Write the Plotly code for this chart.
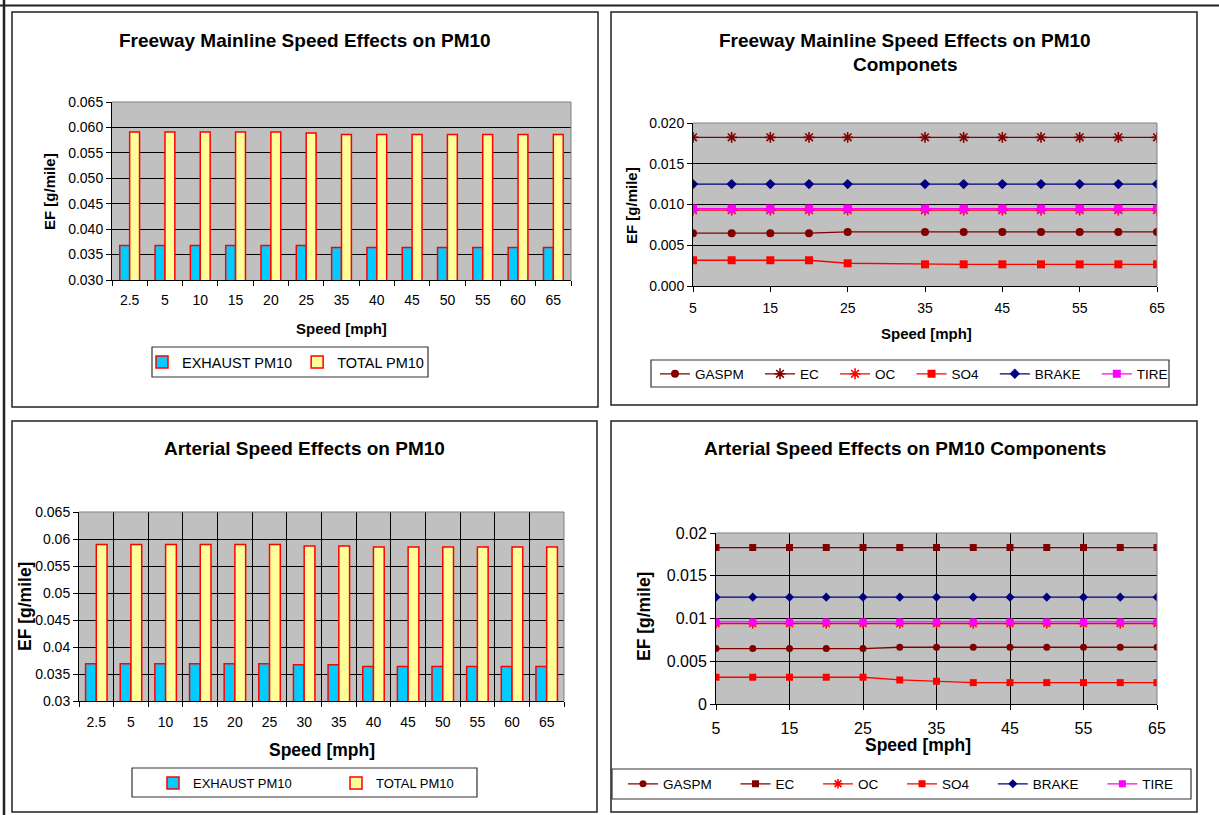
import plotly.graph_objects as go

# ---------------- data ----------------
# Freeway mainline: total vs exhaust PM10 by speed
fw_speeds = ["2.5", "5", "10", "15", "20", "25", "35", "40", "45", "50", "55", "60", "65"]
fw_exhaust = [0.0368, 0.0368, 0.0368, 0.0368, 0.0368, 0.0368, 0.0364,
              0.0364, 0.0364, 0.0364, 0.0364, 0.0364, 0.0364]
fw_total = [0.0591, 0.0591, 0.0591, 0.0591, 0.0591, 0.0589, 0.0586,
            0.0586, 0.0586, 0.0586, 0.0586, 0.0586, 0.0586]

# Arterial: total vs exhaust PM10 by speed
art_speeds = ["2.5", "5", "10", "15", "20", "25", "30", "35", "40", "45", "50", "55", "60", "65"]
art_exhaust = [0.0369, 0.0369, 0.0369, 0.0369, 0.0369, 0.0369, 0.0367,
               0.0367, 0.0364, 0.0364, 0.0364, 0.0364, 0.0364, 0.0364]
art_total = [0.0590, 0.0590, 0.0590, 0.0590, 0.0590, 0.0590, 0.0587,
             0.0587, 0.0585, 0.0585, 0.0585, 0.0585, 0.0585, 0.0585]

# Freeway mainline PM10 components
fw_comp_speed = [5, 10, 15, 20, 25, 35, 40, 45, 50, 55, 60, 65]
fw_gaspm = [0.00648, 0.00648, 0.00648, 0.00648, 0.00664, 0.00664,
            0.00664, 0.00664, 0.00664, 0.00664, 0.00664, 0.00664]
fw_ec = [0.01824, 0.01824, 0.01824, 0.01824, 0.01824, 0.01824,
         0.01824, 0.01824, 0.01824, 0.01824, 0.01824, 0.01824]
fw_oc = [0.0093, 0.0093, 0.0093, 0.0093, 0.0093, 0.0093,
         0.0093, 0.0093, 0.0093, 0.0093, 0.0093, 0.0093]
fw_so4 = [0.00316, 0.00316, 0.00316, 0.00316, 0.00279, 0.00266,
          0.00266, 0.00266, 0.00266, 0.00266, 0.00266, 0.00266]
fw_brake = [0.0125, 0.0125, 0.0125, 0.0125, 0.0125, 0.0125,
            0.0125, 0.0125, 0.0125, 0.0125, 0.0125, 0.0125]
fw_tire = [0.0095, 0.0095, 0.0095, 0.0095, 0.0095, 0.0095,
           0.0095, 0.0095, 0.0095, 0.0095, 0.0095, 0.0095]

# Arterial PM10 components
art_comp_speed = [5, 10, 15, 20, 25, 30, 35, 40, 45, 50, 55, 60, 65]
art_gaspm = [0.00648, 0.00648, 0.00648, 0.00648, 0.00648, 0.00664, 0.00664,
             0.00664, 0.00664, 0.00664, 0.00664, 0.00664, 0.00664]
art_ec = [0.0183, 0.0183, 0.0183, 0.0183, 0.0183, 0.0183, 0.0183,
          0.0183, 0.0183, 0.0183, 0.0183, 0.0183, 0.0183]
art_oc = [0.0094, 0.0094, 0.0094, 0.0094, 0.0094, 0.0094, 0.0094,
          0.0094, 0.0094, 0.0094, 0.0094, 0.0094, 0.0094]
art_so4 = [0.00313, 0.00313, 0.00313, 0.00313, 0.00313, 0.00281, 0.00266,
           0.0025, 0.0025, 0.0025, 0.0025, 0.0025, 0.0025]
art_brake = [0.0125, 0.0125, 0.0125, 0.0125, 0.0125, 0.0125, 0.0125,
             0.0125, 0.0125, 0.0125, 0.0125, 0.0125, 0.0125]
art_tire = [0.0096, 0.0096, 0.0096, 0.0096, 0.0096, 0.0096, 0.0096,
            0.0096, 0.0096, 0.0096, 0.0096, 0.0096, 0.0096]

# axis ticks
bar_yticks = [0.030, 0.035, 0.040, 0.045, 0.050, 0.055, 0.060, 0.065]
fw_bar_ylabels = ["0.030", "0.035", "0.040", "0.045", "0.050", "0.055", "0.060", "0.065"]
art_bar_ylabels = ["0.03", "0.035", "0.04", "0.045", "0.05", "0.055", "0.06", "0.065"]
comp_yticks = [0.0, 0.005, 0.010, 0.015, 0.020]
fw_comp_ylabels = ["0.000", "0.005", "0.010", "0.015", "0.020"]
art_comp_ylabels = ["0", "0.005", "0.01", "0.015", "0.02"]
comp_xticks = [5, 15, 25, 35, 45, 55, 65]

# ---------------- layout helpers ----------------
W, H = 1219, 815
FONT = "Arial, 'Liberation Sans', sans-serif"


def fx(x):
    return x / W


def fy(y):
    return 1 - y / H


EXH_COLOR = "#00CCFF"
TOT_COLOR = "#FFFF99"
EDGE = "#FF0000"
DARKRED = "#800000"
RED = "#FF0000"
NAVY = "#000080"
MAGENTA = "#FF00FF"
NBSP = "\u00a0"

fig = go.Figure()


# ---- bar charts ----
def add_bars(xs, exh, tot, xa, ya, leg, w):
    fig.add_trace(go.Bar(x=xs, y=exh, name="EXHAUST PM10", xaxis=xa, yaxis=ya, legend=leg,
                         width=w, offset=-w,
                         marker=dict(color=EXH_COLOR, line=dict(color=EDGE, width=1.5))))
    fig.add_trace(go.Bar(x=xs, y=tot, name="TOTAL PM10", xaxis=xa, yaxis=ya, legend=leg,
                         width=w, offset=0,
                         marker=dict(color=TOT_COLOR, line=dict(color=EDGE, width=1.5))))


add_bars(fw_speeds, fw_exhaust, fw_total, "x", "y", "legend", 0.28)
add_bars(art_speeds, art_exhaust, art_total, "x3", "y3", "legend3", 0.31)


# ---- component line charts ----
def add_components(xs, series, xa, ya, leg, pad):
    for name, ys, color, sym, size in series:
        open_sym = sym.endswith("-open")
        fig.add_trace(go.Scatter(
            x=xs, y=ys, name=name + NBSP * pad, mode="lines+markers",
            xaxis=xa, yaxis=ya, legend=leg,
            line=dict(color=color, width=1.3),
            marker=dict(symbol=sym, size=size, color=color,
                        line=dict(color=color, width=1.6 if open_sym else 0)),
        ))


add_components(fw_comp_speed, [
    ("GASPM", fw_gaspm, DARKRED, "circle", 8),
    ("EC", fw_ec, DARKRED, "asterisk-open", 9),
    ("OC", fw_oc, RED, "asterisk-open", 9),
    ("SO4", fw_so4, RED, "square", 8),
    ("BRAKE", fw_brake, NAVY, "diamond", 8),
    ("TIRE", fw_tire, MAGENTA, "square", 8),
], "x2", "y2", "legend2", 3)

add_components(art_comp_speed, [
    ("GASPM", art_gaspm, DARKRED, "circle", 7),
    ("EC", art_ec, DARKRED, "square", 7),
    ("OC", art_oc, RED, "asterisk-open", 8),
    ("SO4", art_so4, RED, "square", 7),
    ("BRAKE", art_brake, NAVY, "diamond", 7),
    ("TIRE", art_tire, MAGENTA, "square", 7),
], "x4", "y4", "legend4", 5)

# ---------------- axes ----------------
common_axis = dict(showline=True, linecolor="black", linewidth=1, ticks="outside",
                   ticklen=5, tickcolor="black", zeroline=False, fixedrange=True)


def cat_x(domain, anchor, grid, size, standoff):
    return dict(common_axis, domain=domain, anchor=anchor, type="category",
                tickson="boundaries", showgrid=grid, gridcolor="black", gridwidth=1,
                ticklabelstandoff=standoff,
                tickfont=dict(size=size, family=FONT, color="black"))


def val_y(domain, anchor, rng, vals, labels, size):
    return dict(common_axis, domain=domain, anchor=anchor, range=rng,
                tickmode="array", tickvals=vals, ticktext=labels,
                showgrid=True, gridcolor="black", gridwidth=1,
                tickfont=dict(size=size, family=FONT, color="black"))


def num_x(domain, anchor, grid, size, standoff):
    return dict(common_axis, domain=domain, anchor=anchor, range=[5, 65],
                tickmode="array", tickvals=comp_xticks,
                showgrid=grid, gridcolor="black", gridwidth=1,
                ticklabelstandoff=standoff,
                tickfont=dict(size=size, family=FONT, color="black"))


fig.update_layout(
    xaxis=cat_x([fx(112), fx(571)], "y", False, 14, 7),
    yaxis=val_y([fy(280), fy(102)], "x", [0.030, 0.065], bar_yticks, fw_bar_ylabels, 14),
    xaxis2=num_x([fx(693), fx(1157)], "y2", False, 14, 4),
    yaxis2=val_y([fy(286), fy(123)], "x2", [0, 0.020], comp_yticks, fw_comp_ylabels, 14),
    xaxis3=cat_x([fx(79), fx(564)], "y3", True, 14, 8),
    yaxis3=val_y([fy(701), fy(512)], "x3", [0.030, 0.065], bar_yticks, art_bar_ylabels, 14),
    xaxis4=num_x([fx(716), fx(1157)], "y4", True, 16, 5),
    yaxis4=val_y([fy(704), fy(533)], "x4", [0, 0.020], comp_yticks, art_comp_ylabels, 16),
)


# ---------------- legends (boxes drawn as shapes below) ----------------
def legend_at(x, yc, size, entry=None):
    d = dict(x=fx(x), y=fy(yc), xanchor="left", yanchor="middle", orientation="h",
             bgcolor="rgba(0,0,0,0)", borderwidth=0,
             font=dict(size=size, family=FONT, color="black"), itemclick=False)
    if entry:
        d["entrywidth"] = entry
        d["entrywidthmode"] = "pixels"
    return d


fig.update_layout(
    legend=legend_at(142, 362, 14.5),
    legend2=legend_at(655, 374, 13.5),
    legend3=legend_at(153, 783, 13, 138),
    legend4=legend_at(623, 784, 13.5),
)
legend_boxes = [(152, 347, 428, 377), (651, 360, 1169, 387),
                (132, 768, 477, 797), (612, 769, 1191, 799)]

# ---------------- text ----------------
ann = []


def text(x, y, s, size, bold=True, angle=0):
    ann.append(dict(x=fx(x), y=fy(y), xref="paper", yref="paper",
                    text=f"<b>{s}</b>" if bold else s,
                    showarrow=False, xanchor="center", yanchor="middle", textangle=angle,
                    font=dict(size=size, family=FONT, color="black")))


text(305, 40, "Freeway Mainline Speed Effects on PM10", 19)
text(905, 40, "Freeway Mainline Speed Effects on PM10", 19)
text(905, 65, "Componets", 19)
text(304, 448, "Arterial Speed Effects on PM10", 19)
text(905, 448, "Arterial Speed Effects on PM10 Components", 19)

text(341, 328, "Speed [mph]", 15)
text(50, 192, "EF [g/mile]", 15, angle=-90)
text(926, 333, "Speed [mph]", 15)
text(631, 205, "EF [g/mile]", 15, angle=-90)
text(322, 750, "Speed [mph]", 17.5)
text(25, 607, "EF [g/mile]", 17.5, angle=-90)
text(918, 745, "Speed [mph]", 17.5)
text(644, 617, "EF [g/mile]", 17.5, angle=-90)

# ---------------- frames ----------------
shapes = []
PANEL = "#222222"
for x0, y0, x1, y1 in [(12, 12, 598, 407), (611, 12, 1197, 405),
                       (12, 421, 597, 812), (611, 421, 1197, 812)]:
    shapes.append(dict(type="rect", xref="paper", yref="paper",
                       x0=fx(x0), y0=fy(y1), x1=fx(x1), y1=fy(y0),
                       line=dict(color=PANEL, width=1.5), fillcolor="rgba(0,0,0,0)"))
for x0, y0, x1, y1 in legend_boxes:
    shapes.append(dict(type="rect", xref="paper", yref="paper",
                       x0=fx(x0), y0=fy(y1), x1=fx(x1), y1=fy(y0),
                       line=dict(color="#333333", width=1.2), fillcolor="rgba(0,0,0,0)"))
# page edge lines
shapes.append(dict(type="line", xref="paper", yref="paper", x0=0, x1=1, y0=fy(5.5), y1=fy(5.5),
                   line=dict(color="#222222", width=2)))
shapes.append(dict(type="line", xref="paper", yref="paper", x0=fx(4), x1=fx(4), y0=0, y1=1,
                   line=dict(color="#222222", width=2.5)))
# grey top/right edges of each plot area
for xa, ya in [("x", "y"), ("x2", "y2"), ("x3", "y3"), ("x4", "y4")]:
    shapes.append(dict(type="line", xref=f"{xa} domain", yref=f"{ya} domain",
                       x0=0, x1=1, y0=1, y1=1, line=dict(color="#808080", width=1)))
    shapes.append(dict(type="line", xref=f"{xa} domain", yref=f"{ya} domain",
                       x0=1, x1=1, y0=0, y1=1, line=dict(color="#808080", width=1)))

fig.update_layout(
    width=W, height=H, autosize=False,
    margin=dict(l=0, r=0, t=0, b=0, pad=0, autoexpand=False),
    paper_bgcolor="white", plot_bgcolor="#C0C0C0",
    barmode="overlay",
    font=dict(family=FONT, color="black"),
    annotations=ann, shapes=shapes,
)

fig.write_html("out.html", config={"displayModeBar": False})
